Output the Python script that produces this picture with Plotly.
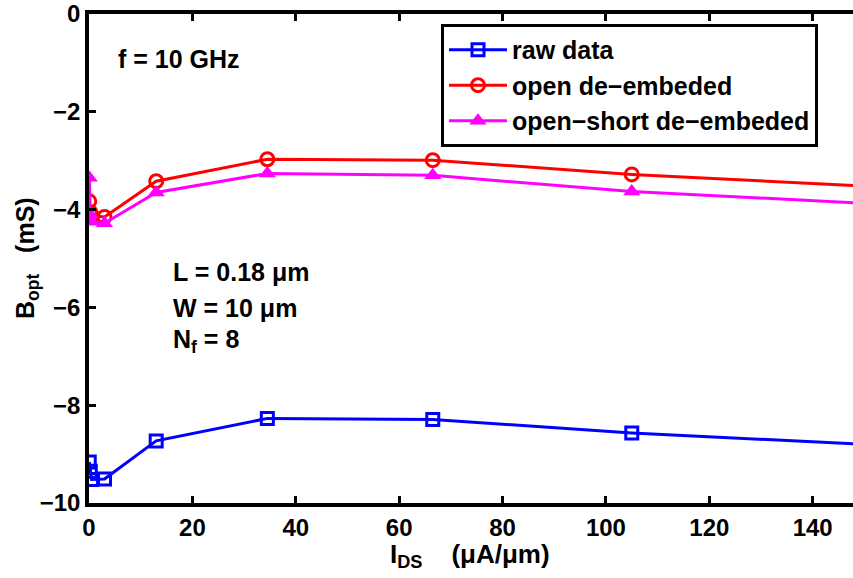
import plotly.graph_objects as go

# Data (I_DS in uA/um, B_opt in mS)
ids = [0.05, 0.25, 0.5, 3.0, 13.0, 34.5, 66.5, 105.0, 150.0]
raw_data = [-9.16, -9.35, -9.52, -9.51, -8.73, -8.27, -8.29, -8.57, -8.80]
open_deemb = [-3.83, -4.05, -4.12, -4.15, -3.42, -2.97, -2.99, -3.28, -3.52]
open_short_deemb = [-3.35, -4.10, -4.25, -4.28, -3.65, -3.26, -3.30, -3.63, -3.87]

x_ticks = [0, 20, 40, 60, 80, 100, 120, 140]
y_ticks = [0, -2, -4, -6, -8, -10]

FONT = "Liberation Sans, Arial, Helvetica, sans-serif"

W, H = 853, 578
PLOT_L, PLOT_T, PLOT_W, PLOT_H = 89, 12, 764, 491

fig = go.Figure()
fig.add_trace(go.Scatter(
    x=ids, y=raw_data, name="<b>raw data</b>", mode="lines+markers",
    line=dict(color="#0000ff", width=3),
    marker=dict(symbol="square-open", size=12, color="#0000ff", line=dict(width=3)),
))
fig.add_trace(go.Scatter(
    x=ids, y=open_deemb, name="<b>open de\u2212embeded</b>", mode="lines+markers",
    line=dict(color="#ff0000", width=3),
    marker=dict(symbol="circle-open", size=13, color="#ff0000", line=dict(width=3)),
))
fig.add_trace(go.Scatter(
    x=ids, y=open_short_deemb, name="<b>open\u2212short de\u2212embeded</b>", mode="lines+markers",
    line=dict(color="#ff00ff", width=3),
    marker=dict(symbol="triangle-up", size=15, color="#ff00ff"),
))

axis_common = dict(
    showgrid=False, zeroline=False, showline=True, linecolor="black", linewidth=3.5,
    ticks="inside", ticklen=7, tickwidth=2.5, tickcolor="black",
    tickfont=dict(family=FONT, size=24, color="black"),
    ticklabeloverflow="allow",
)

fig.update_layout(
    width=W, height=H,
    margin=dict(l=PLOT_L, r=W - PLOT_L - PLOT_W, t=PLOT_T, b=H - PLOT_T - PLOT_H),
    paper_bgcolor="white", plot_bgcolor="white",
    font=dict(family=FONT, color="black"),
    xaxis=dict(range=[0, 147.8], tickvals=x_ticks,
               ticktext=["<b>%d</b>" % v for v in x_ticks],
               mirror="ticks", **axis_common),
    yaxis=dict(range=[-10, 0], tickvals=y_ticks,
               ticktext=[("<b>\u2212%d</b>" % -v) if v < 0 else "<b>%d</b>" % v for v in y_ticks],
               **axis_common),
    showlegend=True,
    legend=dict(
        x=(441 - PLOT_L) / PLOT_W, y=1 - (22 - PLOT_T) / PLOT_H, xanchor="left", yanchor="top",
        bgcolor="white", bordercolor="black", borderwidth=3,
        font=dict(family=FONT, size=25, color="black"),
        itemwidth=58, tracegroupgap=0,
    ),
)


def px_to_paper_x(px):
    return (px - PLOT_L) / PLOT_W


def px_to_paper_y(py):
    return 1 - (py - PLOT_T) / PLOT_H


ann_font = dict(family=FONT, size=25, color="black")
fig.add_annotation(text="<b>f = 10 GHz</b>", x=px_to_paper_x(116), y=px_to_paper_y(57),
                   xref="paper", yref="paper", showarrow=False, font=ann_font,
                   xanchor="left", yanchor="middle")
notes = [("<b>L = 0.18 \u03bcm</b>", 271), ("<b>W = 10 \u03bcm</b>", 307),
         ("<b>N<sub>f</sub> = 8</b>", 340)]
for txt, ypix in notes:
    fig.add_annotation(text=txt, x=px_to_paper_x(171), y=px_to_paper_y(ypix),
                       xref="paper", yref="paper", showarrow=False, font=ann_font,
                       xanchor="left", yanchor="middle")

title_font = dict(family=FONT, size=25, color="black")
fig.add_annotation(text="<b>B<sub>opt</sub>   (mS)</b>", x=px_to_paper_x(27), y=px_to_paper_y(257),
                   xref="paper", yref="paper", showarrow=False, font=title_font,
                   textangle=-90, xanchor="center", yanchor="middle")
fig.add_annotation(text="<b>I<sub>DS</sub>    (\u03bcA/\u03bcm)</b>", x=px_to_paper_x(470),
                   y=px_to_paper_y(556),
                   xref="paper", yref="paper", showarrow=False,
                   font=dict(family=FONT, size=26, color="black"),
                   xanchor="center", yanchor="middle")

# remove the default 8px page margin so the figure fills the window exactly
fig.write_html("out.html", config={"displayModeBar": False},
               post_script="document.body.style.margin='0';")
